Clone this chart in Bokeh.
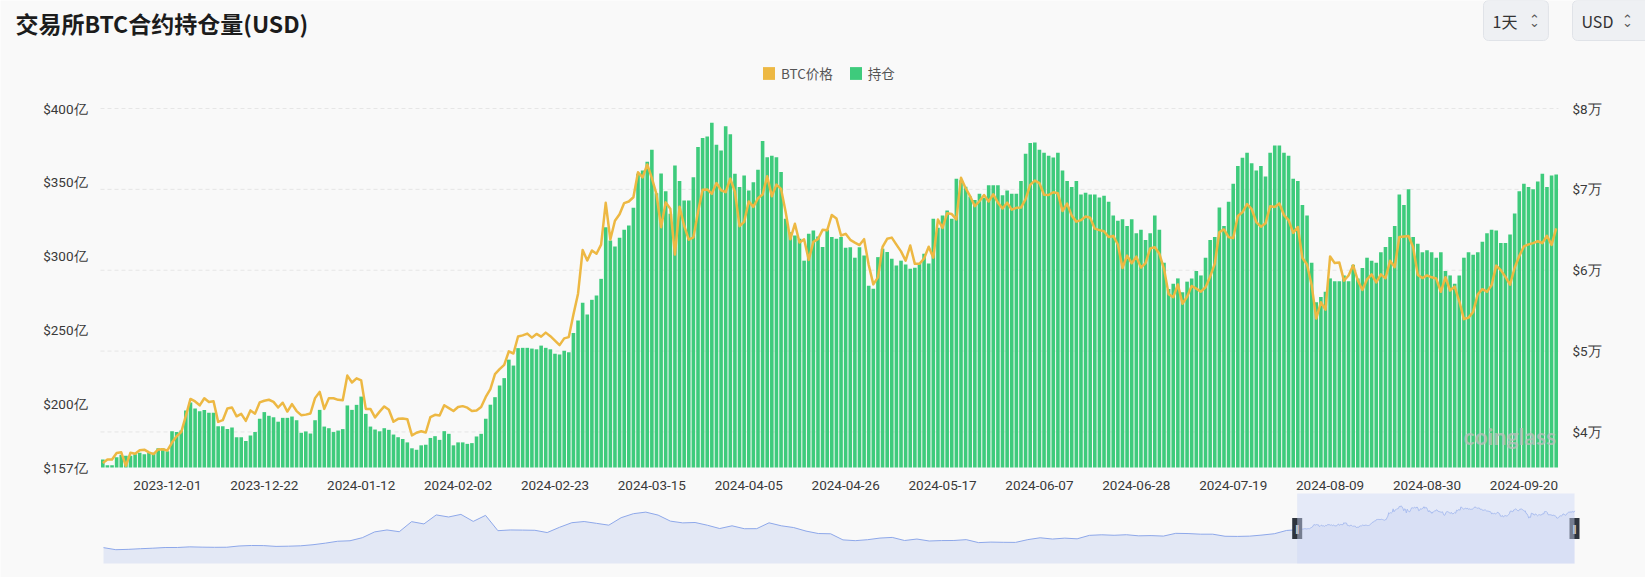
import pandas as pd
from bokeh.plotting import figure
from bokeh.models import Range1d, Label, Legend, LegendItem, BoxAnnotation, ColumnDataSource
from bokeh.embed import file_html
from bokeh.resources import INLINE
from bokeh.core.properties import value

# ---------------- data ----------------
dates = pd.date_range("2023-11-17", periods=316, freq="D")
date_labels = [d.strftime("%Y-%m-%d") for d in dates]

# open interest, 亿 USD
oi = [
    162.4, 158.6, 158.6, 164, 165.6, 165, 165, 166, 167, 166,
    167, 167, 170, 170, 168, 181.6, 181, 182, 195.6, 201,
    197, 195, 196, 194, 194, 185, 185, 183, 184, 177.5,
    177.5, 175, 178.7, 181, 190, 194.5, 192, 191, 188, 190.6,
    190.6, 191.5, 189, 180.5, 181.4, 180, 189, 196, 184.7, 183.6,
    181, 182, 183, 199, 196, 199.4, 205, 193.3, 184.7, 182.7,
    181.5, 183.6, 182.5, 179.3, 177.5, 176.3, 174, 170, 169, 172,
    172.4, 177, 178.2, 175.7, 181.6, 179.8, 172, 174, 174, 173,
    173.5, 178,
    179.8, 190, 199.5, 204.6, 212.5, 217.5, 230, 226, 237.8, 238,
    238, 237.5, 237, 239.5, 238, 237, 234, 233.5, 236, 235,
    248, 256.5, 268.5, 260.6, 270.5, 273.5, 284.7, 319.7, 310.7, 306.6,
    312.5, 318, 320.8, 332.8, 355.8, 358, 364, 372, 342.7, 356,
    344, 328.7, 361.5, 351, 337.8, 337.8, 353.5, 374, 380, 381,
    390.4, 375.5, 371.6, 388, 382.5, 355.8, 346.8, 354.7, 344.5, 350,
    358.5, 378, 367, 368, 367, 357, 325.4, 316.3, 314, 311.8,
    297, 315.2, 317.5, 313.4, 306.2, 318, 313, 311.8, 313, 305.7,
    306, 299, 306, 300.5, 280, 278, 299.4, 305, 302.8, 298.3,
    293.8, 297, 294.4, 291.5, 292.2, 295, 301.7, 295, 325.4, 319.3,
    327.6, 331, 325.4, 352.5, 351.4, 347, 340.4, 338, 342.3, 339.5,
    348, 348, 348, 341.2, 344.5, 342.3, 342.3, 351, 369.4, 376.6,
    377,
    372, 370, 368, 366.8, 370, 358, 351, 346.8, 351, 341.8,
    343, 341.8, 341.8, 339.7, 341, 336.8, 327.6, 324, 325, 320.5,
    325, 315.5, 318, 311, 315.5, 327.6, 318, 295.6, 277.9, 281.4,
    285, 275.7, 282.8, 285, 290, 287, 299, 311, 313, 333,
    320.5, 336.8, 349, 361, 366.6, 370, 363, 358, 361, 353.9,
    370, 375, 375, 370, 368, 352.5, 351, 334.7, 327.6, 295.6,
    268.9, 272.4, 275.9, 285, 283, 283, 287, 283, 294.2, 285,
    292, 299, 297, 295.6, 302.7, 306.3, 313, 320.5, 341.8, 334.7,
    345.3, 313, 308.4, 302.7, 304, 302.7, 299, 302.7, 290, 287,
    281.4, 287, 299, 302.7, 301, 302.7, 309.8, 315.5, 318,
    317.5, 308.9, 308.9, 314.7, 329, 344, 349, 346.8, 345.4, 350.6,
    355.8, 346.8, 354.7, 355.4,
]

# BTC price, USD
price = [
    36160, 36590, 36600, 37390, 37480, 35810, 37420, 37290, 37720, 37800,
    37480, 37250, 37830, 37860, 37710,
    38690, 39470, 39980, 41980, 44080, 43770, 43290, 44170, 43710, 43790,
    41240, 41450, 42890, 43020, 41930, 42240, 41370, 42660, 42260, 43650,
    43860, 43980, 43720, 43020, 43610, 42520, 43440, 42580, 42070, 42140, 42280,
    44180, 44950, 42850, 44180, 44160, 43970, 43930, 46970, 46110, 46630,
    46370, 42850, 42840, 41800, 42510, 43150, 42740, 41260, 41620, 41660,
    41580, 39570, 39900, 40080, 39930, 41820, 42120, 42030, 43300, 42940, 42580,
    43080, 43190, 43000, 42580, 42660, 43090, 44330, 45300, 47150, 47770,
    48290, 49960, 49700, 51800, 51940, 52160, 51660, 52120, 51780, 52280,
    51840, 51300, 50730, 51570, 51730, 54520, 57090, 62500, 61200,
    62440, 62030, 63170, 68330, 63800, 66110, 66930, 68300, 68500, 69020,
    72120, 71480, 73080, 71400, 69400, 65320, 68390, 67610, 61930, 67840,
    65500, 63780, 64060, 67210, 69960, 69990, 69450, 70780, 69890, 69650, 71330,
    69700, 65450, 65980, 68510, 67840, 68900, 69360, 71630, 69140, 70590,
    70060, 67190, 63820, 65740, 63420, 63810, 61280, 63510, 63840, 64990,
    64930, 66840, 66410, 64290, 64500, 63760, 63420, 63110, 63840, 60640,
    58250, 59120, 62890, 63890, 64030, 63160, 62330, 61190, 63050, 60790,
    60790, 61450, 62900, 61550, 66270, 65230, 67050, 66940, 66280, 71450,
    70140, 69120, 67930, 68530, 69290, 68510, 69390, 68360, 67630, 68350, 67490,
    67710, 67750, 68800, 70550, 71080, 70760, 69340, 69300, 69640, 69510,
    67320, 68240, 66750, 66010, 66190, 66640, 66490, 65140, 64960, 64830,
    64100, 64250, 63180, 60280, 61800, 60860, 61680, 60320, 60890, 62680,
    62850, 62030, 60170, 57040, 56660, 58230, 55860, 56710, 58050, 57720,
    57340, 57890, 59200, 60800, 64720, 65040, 64090, 63970, 66710, 67160,
    68190, 67550, 65960, 65380, 65800, 67910, 67810, 68260, 66820, 66200, 64620,
    65350, 61500, 60700, 58160, 54020, 56040, 55130, 61700, 60880, 60940,
    58710, 59350, 60610, 58740, 57560, 58870, 59480, 58480, 59490, 59010,
    61160, 60380, 64100, 64180, 64220, 62830, 59420, 59030, 59360, 59120, 58970,
    57330, 59130, 57490, 57970, 56160, 53950, 54140, 54840, 57020, 57650,
    57340, 58130, 60570, 60010, 59180, 58210, 60310, 61760, 62950, 63200,
    63350, 63580, 63340, 64260, 63140, 65180,
]

# longer price history drawn in the zoom slider (every 14 days before the window)
hist_dates = pd.date_range("2020-03-01", periods=97, freq="14D")
hist_price = [
    8550, 5380, 5900, 6900, 7700, 8750, 8780, 9760, 9300, 9070,
    9170, 11100, 11850, 11680, 10450, 10770, 11380, 13030, 15480, 18400,
    19150, 23850, 32800, 35800, 33100, 48600, 45100, 59000, 55800, 59800,
    49000, 58300, 34700, 35800, 35600, 35300, 31800, 39900, 47000, 48800,
    46000, 43200, 54700, 60900, 63300, 58700, 49400, 46700, 47300, 43100,
    38000, 42200, 37700, 37800, 46800, 42200, 39500, 34100, 30300, 29900,
    20500, 19300, 20800, 23300, 24300, 19550, 21800, 18800, 19450, 19570,
    20900, 16280, 17100, 16760, 16620, 20880, 23750, 21800, 23200, 22150,
    27500, 28350, 27600, 28450, 26750, 27100, 26350, 30600, 30250, 29300,
    29300, 26100, 25840, 26250, 27950, 29990, 35050,
]

left_ticks = [157, 200, 250, 300, 350, 400]
right_ticks = [40000, 50000, 60000, 70000, 80000]
x_ticks = list(range(14, 316, 21))

# ---------------- layout (canvas pixels) ----------------
W, H = 1645, 577
PL, PR, PT, PB = 100, 1558, 108, 467          # main plot area
OL, OR, OT, OB = 103, 1574, 493, 563          # slider area
PRICE_MIN, PRICE_MAX = 35600, 80000
OV_MIN, OV_MAX = -15900, 92000

BG = "#f9f9f9"
GREEN = "#3ecb7c"
YELLOW = "#edb843"
TXT = "#3a3a3a"
AXFONT = "Roboto"
CJK = "Noto Sans CJK SC"
NAN = float("nan")

def extend(v0, v1, p0, p1, size):
    """data range covering the whole canvas, with v0 at pixel p0 and v1 at pixel p1"""
    k = (v1 - v0) / (p1 - p0)
    return v0 - p0 * k, v1 + (size - p1) * k

n = len(oi)
xs, xe = extend(-0.5, n - 0.5, PL, PR, W)
ys, ye = extend(left_ticks[0], left_ticks[-1], H - PB, H - PT, H)
ps, pe = extend(PRICE_MIN, PRICE_MAX, H - PB, H - PT, H)

p = figure(width=W, height=H, x_range=Range1d(xs, xe), y_range=Range1d(ys, ye),
           x_axis_location=None, y_axis_location=None,
           output_backend="svg", toolbar_location=None, min_border=0,
           background_fill_color=BG, border_fill_color=BG, outline_line_color=None)
p.grid.visible = False
p.extra_y_ranges = {"price": Range1d(ps, pe)}

src = ColumnDataSource(dict(i=list(range(n)), oi=oi, price=price))

# grid lines of the price axis
p.segment(x0=[-0.5] * len(right_ticks), x1=[n - 0.5] * len(right_ticks),
          y0=right_ticks, y1=right_ticks, y_range_name="price",
          line_color="#e6e6e6", line_dash="4 3", line_width=1)

p.vbar(x="i", top="oi", bottom=left_ticks[0], width=0.78, source=src,
       fill_color=GREEN, line_color=None)
p.line(x="i", y="price", y_range_name="price", source=src,
       line_color=YELLOW, line_width=2.5, line_join="round")

# axis labels
tick_style = dict(text_font=value(AXFONT), text_font_size=value("13.5px"),
                  text_color=TXT, text_baseline="middle")
p.text(x=[-0.5] * len(left_ticks), y=left_ticks, text=[f"${t}亿" for t in left_ticks],
       x_offset=-13, text_align="right", **tick_style)
p.text(x=[n - 0.5] * len(right_ticks), y=right_ticks, y_range_name="price",
       text=[f"${t // 10000}万" for t in right_ticks],
       x_offset=14, text_align="left", **tick_style)
p.text(x=x_ticks, y=[left_ticks[0]] * len(x_ticks), text=[date_labels[t] for t in x_ticks],
       y_offset=18, text_align="center", **tick_style)

# legend (renderers hold a single NaN row so that the swatches get drawn)
r1 = p.quad(left=[NAN], right=[NAN], top=[NAN], bottom=[NAN], fill_color=YELLOW, line_color=None)
r2 = p.quad(left=[NAN], right=[NAN], top=[NAN], bottom=[NAN], fill_color=GREEN, line_color=None)
legend = Legend(items=[LegendItem(label="BTC价格", renderers=[r1]),
                       LegendItem(label="持仓", renderers=[r2])],
                orientation="horizontal", location=(761, H - 83),
                glyph_width=15, glyph_height=16, label_height=16, label_width=10,
                label_standoff=5, spacing=15, padding=0, margin=0,
                border_line_color=None, background_fill_alpha=0,
                label_text_font=CJK, label_text_font_size="13.5px", label_text_color="#555555")
p.add_layout(legend, "center")

# title
p.add_layout(Label(x=15, y=H - 22, x_units="screen", y_units="screen",
                   text="交易所BTC合约持仓量(USD)", text_font=CJK, text_font_size="23px",
                   text_font_style="bold", text_color="#1c1c1c", text_baseline="middle"))

# selector buttons
for bx, txt, rp in ((1483, "1天", 31), (1572, "USD", 44)):
    p.add_layout(Label(x=bx, y=H - 20, x_units="screen", y_units="screen", text=txt,
                       text_font=CJK, text_font_size="16px", text_color="#333333",
                       text_baseline="middle",
                       padding=dict(left=9, right=rp, top=8, bottom=8), border_radius=5,
                       background_fill_color="#eef0f3", border_line_color="#e0e3e8"))
for cx in (1534, 1627):
    p.add_layout(Label(x=cx, y=H - 19, x_units="screen", y_units="screen", text="⌃",
                       text_font="DejaVu Sans", text_font_size="13px", text_color="#555555",
                       text_align="center", text_baseline="middle"))
    p.add_layout(Label(x=cx, y=H - 22, x_units="screen", y_units="screen", text="⌄",
                       text_font="DejaVu Sans", text_font_size="13px", text_color="#555555",
                       text_align="center", text_baseline="middle"))

# watermark
p.add_layout(Label(x=1463, y=H - 435, x_units="screen", y_units="screen", text="coinglass",
                   text_font="Lato", text_font_size="23px", text_font_style="bold",
                   text_color="#bdbdbd", text_alpha=0.75, text_baseline="middle"))

# ---------------- zoom slider overview ----------------
t_first = hist_dates[0].timestamp() * 1000
t0 = dates[0].timestamp() * 1000
t1 = dates[-1].timestamp() * 1000
oxs, oxe = extend(t_first, t1, OL, OR, W)
oys, oye = extend(OV_MIN, OV_MAX, H - OB, H - OT, H)
p.extra_x_ranges = {"ovx": Range1d(oxs, oxe)}
p.extra_y_ranges["ovy"] = Range1d(oys, oye)

ov_src = ColumnDataSource(dict(x=list(hist_dates) + list(dates), y=hist_price + price))
p.varea(x="x", y1=OV_MIN, y2="y", source=ov_src, x_range_name="ovx", y_range_name="ovy",
        fill_color="#e3e8f5")
p.line(x="x", y="y", source=ov_src, x_range_name="ovx", y_range_name="ovy",
       line_color="#8ea8ea", line_width=1)
p.add_layout(BoxAnnotation(left=t0, right=t1, top=OV_MAX, bottom=OV_MIN,
                           x_range_name="ovx", y_range_name="ovy",
                           fill_color="#ccd8f6", fill_alpha=0.45, line_color=None))
mid = (OV_MIN + OV_MAX) / 2
p.rect(x=[t0, t1], y=[mid, mid], width=10, height=21, width_units="screen",
       height_units="screen", x_range_name="ovx", y_range_name="ovy",
       fill_color="#2e343d", line_color=None)
p.text(x=[t0, t1], y=[mid, mid], text=["‖", "‖"], x_range_name="ovx", y_range_name="ovy",
       text_align="center", text_baseline="middle", text_color="white",
       text_font=value("DejaVu Sans"), text_font_size=value("9px"))

open("out.html", "w").write(file_html(p, INLINE))
